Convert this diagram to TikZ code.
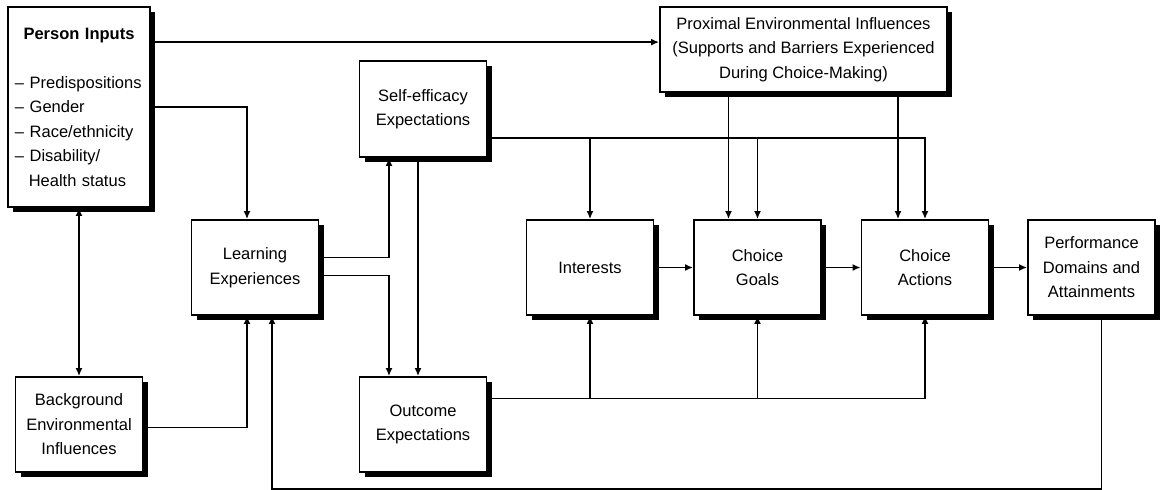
\documentclass[tikz,border=0pt]{standalone}
\usepackage{fontspec}
\setmainfont{Liberation Sans}
\usetikzlibrary{arrows.meta,shadows}

\begin{document}
\begin{tikzpicture}[
x=1pt, y=-1pt,
font=\fontsize{16.5}{24.5}\selectfont,
box/.style={draw=black, line width=1.8pt, fill=white, align=center, inner sep=4pt,
  minimum width=127pt, minimum height=95pt,
  drop shadow={shadow xshift=5pt, shadow yshift=-5pt, fill=black, opacity=1}},
arrow/.style={-{Latex[length=8pt, width=7pt]}, line width=1.6pt},
both/.style={{Latex[length=8pt, width=7pt]}-{Latex[length=8pt, width=7pt]}, line width=1.6pt}
]
\useasboundingbox (0,0) rectangle (1160,490);

\node[box, minimum width=142pt, minimum height=200pt, text width=128pt, align=left, inner xsep=7pt]
  (person) at (79,107)
  {\makebox[128pt]{\bfseries Person Inputs}\\[24.5pt]
   -- Predispositions\\
   -- Gender\\
   -- Race/ethnicity\\
   -- Disability/\\
   \hspace*{13.8pt}Health status};
\node[box, minimum width=287pt, minimum height=85pt] (proximal) at (803.5,49.5)
  {Proximal Environmental Influences\\(Supports and Barriers Experienced\\During Choice-Making)};
\node[box, minimum height=96pt] (selfeff) at (423,109) {Self-efficacy\\Expectations};
\node[box] (learning) at (255,267.5) {Learning\\Experiences};
\node[box] (background) at (79,424.5) {Background\\Environmental\\Influences};
\node[box] (outcome) at (423,424.5) {Outcome\\Expectations};
\node[box] (interests) at (590,267.5) {Interests};
\node[box] (goals) at (757.5,267.5) {Choice\\Goals};
\node[box] (actions) at (925,267.5) {Choice\\Actions};
\node[box] (performance) at (1091.5,267.5) {Performance\\Domains and\\Attainments};

\coordinate (pi) at ([yshift=-36pt]person.north east);
\draw[arrow] (pi) -- (pi -| proximal.west);
\draw[arrow] (person.east) -| ([xshift=-8pt]learning.north);
\draw[both] (person.south) -- (background.north);
\draw[arrow] ([yshift=-3pt]background.east) -| ([xshift=-8pt]learning.south);
\draw[arrow] ([xshift=10pt]performance.south) -- ++(0,173) -| ([xshift=17pt]learning.south);

\draw[arrow] ([yshift=10pt]learning.east) -| ([xshift=-34pt]selfeff.south);
\draw[arrow] ([yshift=-8pt]learning.east) -| ([xshift=-34pt]outcome.north);
\draw[arrow] ([xshift=-5pt]selfeff.south) -- ([xshift=-5pt]outcome.north);

\coordinate (se) at ([yshift=-29pt]selfeff.east);
\draw[arrow] (se) -| (actions.north);
\draw[arrow] (se -| interests.north) -- (interests.north);
\draw[arrow] (se -| goals.north) -- (goals.north);

\coordinate (pg) at ([xshift=-29pt]goals.north);
\coordinate (pa) at ([xshift=-27pt]actions.north);
\draw[arrow] (proximal.south -| pg) -- (pg);
\draw[arrow] (proximal.south -| pa) -- (pa);

\coordinate (oe) at ([yshift=26pt]outcome.east);
\draw[arrow] (oe) -| (actions.south);
\draw[arrow] (oe -| interests.south) -- (interests.south);
\draw[arrow] (oe -| goals.south) -- (goals.south);

\draw[arrow] (interests) -- (goals);
\draw[arrow] (goals) -- (actions);
\draw[arrow] (actions) -- (performance);
\end{tikzpicture}
\end{document}
